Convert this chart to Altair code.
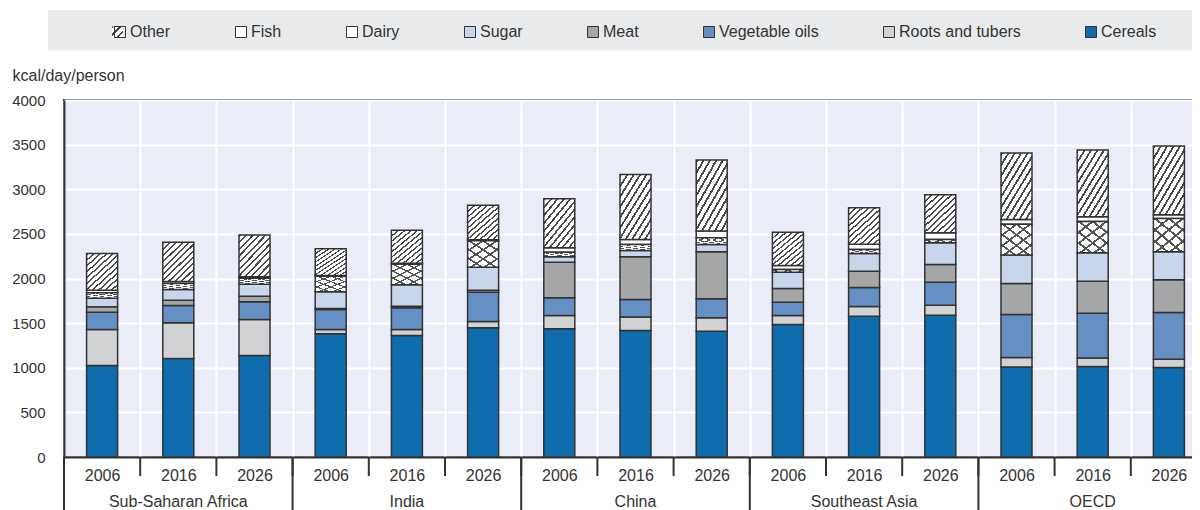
import altair as alt
import pandas as pd

regions = ["Sub-Saharan Africa", "India", "China", "Southeast Asia", "OECD"]
years = ["2006", "2016", "2026"]
# stacking order, bottom to top
categories = ["Cereals", "Roots and tubers", "Vegetable oils", "Meat", "Sugar", "Dairy", "Fish", "Other"]
legend_order = ["Other", "Fish", "Dairy", "Sugar", "Meat", "Vegetable oils", "Roots and tubers", "Cereals"]

# kcal/day/person, one value per region-year (SSA 2006..2026, India, China, SEA, OECD)
cereals = [1024, 1103, 1136, 1380, 1361, 1447, 1436, 1417, 1409, 1484, 1577, 1589, 1009, 1013, 1002]
roots = [404, 400, 404, 48, 67, 71, 149, 153, 150, 101, 109, 111, 105, 97, 93]
veg_oils = [194, 194, 199, 224, 243, 329, 198, 194, 213, 149, 213, 259, 482, 501, 524]
meat = [61, 60, 62, 12, 19, 22, 400, 479, 527, 154, 183, 198, 348, 359, 366]
sugar = [96, 120, 135, 187, 239, 258, 60, 71, 82, 183, 198, 243, 318, 318, 315]
dairy = [60, 67, 67, 175, 232, 296, 52, 67, 76, 30, 45, 37, 347, 351, 373]
fish = [30, 22, 16, 9, 11, 11, 49, 56, 74, 45, 60, 75, 53, 53, 41]
other = [412, 441, 467, 298, 370, 388, 550, 729, 796, 373, 408, 427, 744, 747, 770]

y_ticks = [0, 500, 1000, 1500, 2000, 2500, 3000, 3500, 4000]

series = {
    "Cereals": cereals, "Roots and tubers": roots, "Vegetable oils": veg_oils,
    "Meat": meat, "Sugar": sugar, "Dairy": dairy, "Fish": fish, "Other": other,
}

keys = [f"{r}|{y}" for r in regions for y in years]
rows = []
for i, k in enumerate(keys):
    for j, c in enumerate(categories):
        rows.append({"key": k, "category": c, "order": j, "value": series[c][i]})
df = pd.DataFrame(rows)

region_df = pd.DataFrame({"key": [f"{r}|2016" for r in regions], "label": regions})
first_df = pd.DataFrame({"key": [f"{r}|2006" for r in regions]})
keys_df = pd.DataFrame({"key": keys})
one_df = pd.DataFrame({"one": [0]})

W, H = 1143, 357
FONT = "Liberation Sans"
DARK = "#333333"
CLEAR = "rgba(255,255,255,0)"

colors = [CLEAR, "#ffffff", "#ffffff", "#c9d5ea", "#a5a6a8", "#6690c4", "#d1d2d4", "#0f6cad"]


def stripes(n, frac, line, bg, x1, y1, x2, y2):
    stops = []
    for i in range(n):
        a = i / n
        b = (i + frac) / n
        stops.append(alt.GradientStop(offset=a, color=line))
        stops.append(alt.GradientStop(offset=b, color=line))
        stops.append(alt.GradientStop(offset=b, color=bg))
        stops.append(alt.GradientStop(offset=(i + 1) / n, color=bg))
    return alt.Gradient(gradient="linear", stops=stops, x1=x1, y1=y1, x2=x2, y2=y2)


x_enc = alt.X(
    "key:N",
    sort=keys,
    scale=alt.Scale(domain=keys, paddingInner=0, paddingOuter=0),
    axis=alt.Axis(
        title=None, labelExpr="split(datum.label, '|')[1]", labelAngle=0,
        ticks=False, grid=True, gridColor="white", gridWidth=2, tickBand="extent",
        domainColor=DARK, domainWidth=2, labelFontSize=16, labelColor=DARK,
        labelFont=FONT, labelPadding=10,
    ),
)
y_enc = alt.Y(
    "y0:Q",
    scale=alt.Scale(domain=[0, 4000], nice=False),
    axis=alt.Axis(
        values=y_ticks, format="d", title="kcal/day/person", titleAngle=0,
        titleAlign="left", titleBaseline="middle", titleX=-52, titleY=-25,
        titleFontSize=16, titleFontWeight="normal", titleColor=DARK, titleFont=FONT,
        labelFontSize=15, labelColor=DARK, labelFont=FONT, ticks=False,
        labelPadding=19, gridColor="white", gridWidth=2, domainColor=DARK, domainWidth=2,
    ),
)

bars = alt.Chart(df).transform_stack(
    stack="value", groupby=["key"], as_=["y0", "y1"],
    sort=[alt.SortField("order", "ascending")],
)

band = alt.Chart(one_df).mark_rect(color="#e9eaec").encode(
    x=alt.value(-16), x2=alt.value(W), y=alt.value(-90), y2=alt.value(-50)
)

# patterned background of the hatched "Other" legend swatch (legend draws the outline on top)
LX, LY, SW = 48, -76, 11
sw_y = LY + 8 - SW / 2
other_sw = alt.Chart(one_df).mark_rect(
    fill=stripes(3, 0.3, "#4a4a4a", "#ffffff", 0, 0, 1, 1)
).encode(x=alt.value(LX), x2=alt.value(LX + SW), y=alt.value(sw_y), y2=alt.value(sw_y + SW))

solid = bars.transform_filter(
    "datum.category !== 'Other' && datum.category !== 'Dairy'"
).mark_bar(size=31, stroke=DARK, strokeWidth=1.5).encode(
    x=x_enc, y=y_enc, y2="y1:Q",
    color=alt.Color(
        "category:N",
        scale=alt.Scale(domain=legend_order, range=colors),
        legend=alt.Legend(
            title=None, orient="none", legendX=LX, legendY=LY, direction="horizontal",
            columns=8, columnPadding=62, symbolType="square", symbolSize=SW * SW,
            symbolStrokeColor=DARK, symbolStrokeWidth=1, labelFontSize=16,
            labelFont=FONT, labelColor=DARK, labelOffset=2, padding=0, gridAlign="each",
        ),
    ),
)

other_bar = bars.transform_filter("datum.category === 'Other'").mark_bar(
    size=31, stroke=DARK, strokeWidth=1.5,
    fill=stripes(13, 0.33, "#4a4a4a", "#ffffff", 0, 0, 1, 1.3),
).encode(x="key:N", y="y0:Q", y2="y1:Q")

dairy_base = bars.transform_filter("datum.category === 'Dairy'").mark_bar(
    size=31, fill="white"
).encode(x="key:N", y="y0:Q", y2="y1:Q")
dairy_a = bars.transform_filter("datum.category === 'Dairy'").mark_bar(
    size=31, fill=stripes(6, 0.22, "#555555", CLEAR, 0, 0, 1, 1.3)
).encode(x="key:N", y="y0:Q", y2="y1:Q")
dairy_b = bars.transform_filter("datum.category === 'Dairy'").mark_bar(
    size=31, stroke=DARK, strokeWidth=1.5,
    fill=stripes(6, 0.22, "#555555", CLEAR, 1, 0, 0, 1.3),
).encode(x="key:N", y="y0:Q", y2="y1:Q")

short_sep = alt.Chart(keys_df).mark_rule(color=DARK, strokeWidth=2).encode(
    x=alt.X("key:N", bandPosition=0), y=alt.value(H), y2=alt.value(H + 19)
)
long_sep = alt.Chart(first_df).mark_rule(color=DARK, strokeWidth=2).encode(
    x=alt.X("key:N", bandPosition=0), y=alt.value(H), y2=alt.value(H + 60)
)
region_text = alt.Chart(region_df).mark_text(
    fontSize=16, font=FONT, color=DARK, baseline="middle"
).encode(x="key:N", y=alt.value(H + 45), text="label:N")

chart = alt.layer(
    band, other_sw, solid, other_bar, dairy_base, dairy_a, dairy_b,
    short_sep, long_sep, region_text,
).properties(
    width=W, height=H,
    autosize=alt.AutoSizeParams(type="none"),
    padding={"left": 56, "top": 92, "right": -15, "bottom": 60},
    background="white",
).configure_view(
    fill="#eaedf7", stroke=DARK, strokeWidth=2
).configure_text(font=FONT)

chart.save("out.html", embed_options={"renderer": "svg", "actions": False})
